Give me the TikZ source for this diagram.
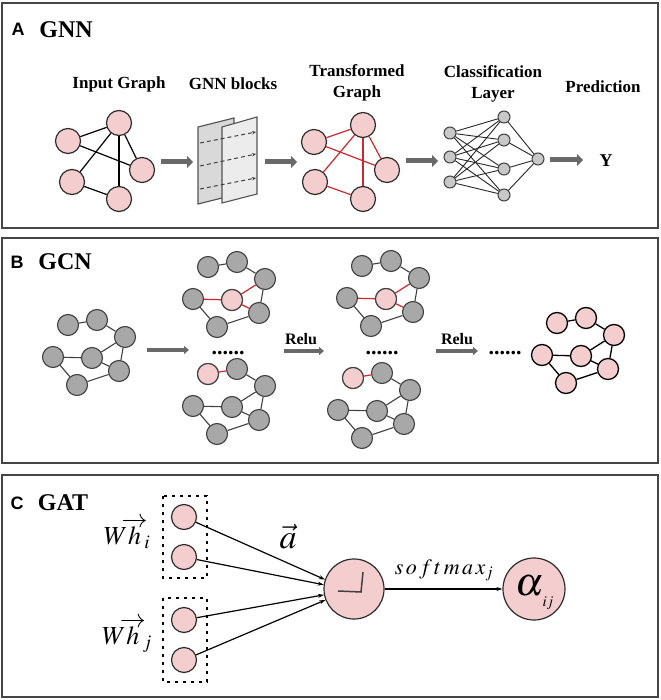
\documentclass[tikz,border=0pt]{standalone}
\usepackage{mathptmx}
\usepackage[no-math]{fontspec}
\setmainfont{Liberation Serif}
\newfontfamily\labfont{Liberation Sans}
\usetikzlibrary{arrows.meta}
\definecolor{pinkfill}{RGB}{244,205,206}
\definecolor{grayfill}{RGB}{168,168,168}
\definecolor{classfill}{RGB}{200,200,200}
\definecolor{grayb}{RGB}{64,64,64}
\definecolor{nodeb}{RGB}{45,45,45}
\definecolor{panelc}{RGB}{70,70,70}
\definecolor{redc}{RGB}{205,40,45}
\definecolor{arrowc}{RGB}{105,105,105}
\definecolor{sheetback}{RGB}{217,217,217}
\definecolor{sheetfront}{RGB}{236,236,236}
\newcommand{\gcngraph}[4]{%
  \foreach \k/\dx/\dy in {1/0/0,2/29/-5,3/57/12,4/-15/32,5/24/33,6/51/46,7/9/60}
    \node[#4] (#1\k) at ({#2+\dx},{#3+\dy}) {};}
\newcommand{\gcnedges}[3]{%
  \foreach \a/\b in {#3} \draw[#2] (#1\a) -- (#1\b);}
\begin{document}
\begin{tikzpicture}[x=1pt,y=-1pt,
  panel/.style={draw=panelc, line width=1.6pt},
  pn/.style={circle, draw=nodeb, fill=pinkfill, line width=1.2pt, minimum size=25pt, inner sep=0pt},
  gn/.style={circle, draw=grayb, fill=grayfill, line width=1.1pt, minimum size=21pt, inner sep=0pt},
  gpn/.style={gn, fill=pinkfill},
  fpn/.style={circle, draw=black, fill=pinkfill, line width=1.3pt, minimum size=21pt, inner sep=0pt},
  cn/.style={circle, draw=grayb, fill=classfill, line width=1pt, minimum size=12pt, inner sep=0pt},
  bedge/.style={draw=black, line width=1.2pt},
  redge/.style={draw=redc, line width=1.2pt},
  gedge/.style={draw=grayb, line width=1.1pt},
  fedge/.style={draw=black, line width=1.3pt},
  nnedge/.style={draw=black!85, line width=0.9pt},
  fatarrow/.style={draw=arrowc, line width=5pt, -{Triangle[width=12pt,length=6pt]}},
  midarrow/.style={draw=arrowc, line width=3.2pt, -{Triangle[width=8pt,length=5pt]}},
  carrow/.style={draw=black, line width=1.2pt, -{Stealth[length=6pt,width=4pt]}},
  sheet/.style={draw=grayb!90, line width=1.1pt},
  darr/.style={draw=grayb, line width=1pt, dash pattern=on 4pt off 3pt, -{Stealth[length=4pt,width=3.5pt]}},
  dbox/.style={draw=black, line width=1.3pt, dash pattern=on 3pt off 5pt},
  lbl/.style={font=\fontsize{17}{21}\selectfont\bfseries, align=center, inner sep=0pt},
  title/.style={font=\fontsize{24}{28}\selectfont\bfseries, inner sep=0pt},
  letter/.style={font=\labfont\bfseries\fontsize{18}{20}\selectfont, inner sep=0pt},
  dots/.style={font=\fontsize{22}{24}\selectfont\bfseries, inner sep=0pt, anchor=base},
  relu/.style={font=\fontsize{16}{18}\selectfont\bfseries, inner sep=0pt, anchor=base},
  mth/.style={inner sep=0pt}
]
\useasboundingbox (0,0) rectangle (660,700);
% panels
\draw[panel] (2,3) rectangle (658,228);
\draw[panel] (2,238) rectangle (658,463);
\draw[panel] (2,475) rectangle (658,697);

% ===== Panel A =====
\node[letter] (la) at (18,29) {A};
\node[title] (ta) at (66,30) {GNN};
\node[lbl] (l1) at (119,84) {Input Graph};
\node[lbl] (l2) at (233,84) {GNN blocks};
\node[lbl] (l3) at (357,83) {Transformed\\Graph};
\node[lbl] (l4) at (493,84) {Classification\\Layer};
\node[lbl] (l5) at (603,87) {Prediction};

% input graph
\node[pn] (in1) at (68,141) {};
\node[pn] (in2) at (119,123) {};
\node[pn] (in3) at (142,170) {};
\node[pn] (in4) at (72,182) {};
\node[pn] (in5) at (119,199) {};
\foreach \a/\b in {1/2,1/3,2/3,2/5,2/4,4/5} \draw[bedge] (in\a) -- (in\b);

% GNN blocks
\draw[sheet, fill=sheetback] (198,127) -- (234,118) -- (234,195) -- (198,204) -- cycle;
\draw[sheet, fill=sheetfront] (222,127) -- (257,117) -- (257,194) -- (222,203) -- cycle;
\draw[darr] (200,143) -- (256,132);
\draw[darr] (200,166) -- (256,154);
\draw[darr] (200,189) -- (256,178);

% transformed graph
\node[pn] (tr1) at (314,142) {};
\node[pn] (tr2) at (363,125) {};
\node[pn] (tr3) at (387,170) {};
\node[pn] (tr4) at (315,182) {};
\node[pn] (tr5) at (363,199) {};
\foreach \a/\b in {1/2,1/3,2/3,2/5,2/4,4/5} \draw[redge] (tr\a) -- (tr\b);

% classification layer
\node[cn] (ci1) at (450,133) {};
\node[cn] (ci2) at (450,157) {};
\node[cn] (ci3) at (450,182) {};
\node[cn] (ch1) at (504,117) {};
\node[cn] (ch2) at (504,140) {};
\node[cn] (ch3) at (504,169) {};
\node[cn] (ch4) at (504,195) {};
\node[cn] (co) at (538,159) {};
\foreach \i in {1,2,3} \foreach \j in {1,2,3,4} \draw[nnedge] (ci\i) -- (ch\j);
\foreach \j in {1,2,3,4} \draw[nnedge] (ch\j) -- (co);

\node[font=\fontsize{18}{20}\selectfont\bfseries, inner sep=0pt] (yy) at (606,161) {Y};

% fat arrows
\coordinate (a1s) at (161,162); \coordinate (a1e) at (193,162);
\coordinate (a2s) at (265,162); \coordinate (a2e) at (297,162);
\coordinate (a3s) at (406,161); \coordinate (a3e) at (438,161);
\coordinate (a4s) at (550,160); \coordinate (a4e) at (583,160);
\draw[fatarrow] (a1s) -- (a1e);
\draw[fatarrow] (a2s) -- (a2e);
\draw[fatarrow] (a3s) -- (a3e);
\draw[fatarrow] (a4s) -- (a4e);

% ===== Panel B =====
\node[letter] (lb) at (17,262) {B};
\node[title] (tb) at (65,262) {GCN};

\gcngraph{ga}{68}{325}{gn}
\gcnedges{ga}{gedge}{1/2,2/3,3/5,3/6,4/5,4/7,5/6,7/6}

\gcngraph{gb}{208}{267}{gn}
\node[gpn] (gb5) at (gb5) {};
\gcnedges{gb}{gedge}{1/2,2/3,3/6,4/7,7/6}
\gcnedges{gb}{redge}{3/5,4/5,5/6}

\gcngraph{gc}{208}{374}{gn}
\node[gpn] (gc1) at (gc1) {};
\gcnedges{gc}{gedge}{2/3,3/5,3/6,4/5,4/7,5/6,7/6}
\gcnedges{gc}{redge}{1/2}

\gcngraph{gd}{362}{266}{gn}
\node[gpn] (gd5) at (gd5) {};
\gcnedges{gd}{gedge}{1/2,2/3,3/6,4/7,7/6}
\gcnedges{gd}{redge}{3/5,4/5,5/6}

\gcngraph{ge}{353}{378}{gn}
\node[gpn] (ge1) at (ge1) {};
\gcnedges{ge}{gedge}{2/3,3/5,3/6,4/5,4/7,5/6,7/6}
\gcnedges{ge}{redge}{1/2}

\gcngraph{gf}{557}{323}{fpn}
\gcnedges{gf}{fedge}{1/2,2/3,3/5,3/6,4/5,4/7,5/6,7/6}

\node[dots] (d1) at (228,354) {......};
\node[dots] (d2) at (382,354) {......};
\node[dots] (d3) at (505,354) {......};
\node[relu] (r1) at (301,344) {Relu};
\node[relu] (r2) at (457,344) {Relu};

\coordinate (b1s) at (147,350); \coordinate (b1e) at (189,350);
\coordinate (b2s) at (284,351); \coordinate (b2e) at (324,351);
\coordinate (b3s) at (436,351); \coordinate (b3e) at (478,351);
\draw[midarrow] (b1s) -- (b1e);
\draw[midarrow] (b2s) -- (b2e);
\draw[midarrow] (b3s) -- (b3e);

% ===== Panel C =====
\node[letter] (lc) at (17,503) {C};
\node[title] (tc) at (63,503) {GAT};

\draw[dbox] (163,496) rectangle (207,578);
\draw[dbox] (163,598) rectangle (207,682);

\node[pn] (c1) at (184,517) {};
\node[pn] (c2) at (184,557) {};
\node[pn] (c3) at (184,620) {};
\node[pn] (c4) at (184,660) {};

\node[pn, minimum size=60pt] (big) at (354,589) {};
\draw[draw=grayb, line width=1.5pt] (338,591) -- (361,592) -- (363,572);
\node[pn, minimum size=62pt] (alpha) at (534,589) {};
\node[mth, font=\fontsize{40}{44}\selectfont] (al) at (530,586) {$\alpha$};
\node[mth, font=\fontsize{15}{17}\selectfont] (alij) at (548,603) {$ij$};

\draw[carrow] (c1) -- (big.162);
\draw[carrow] (c2) -- (big.172);
\draw[carrow] (c3) -- (big.191);
\draw[carrow] (c4) -- (big.201);
\draw[carrow] (big) -- (alpha);

\node[mth, font=\fontsize{26}{30}\selectfont] (whi) at (127,533) {$W\mkern-4mu\overrightarrow{h}_{\mkern-3mu i}$};
\node[mth, font=\fontsize{26}{30}\selectfont] (whj) at (127,635) {$W\mkern-4mu\overrightarrow{h}_{\mkern-3mu j}$};
\node[mth, font=\fontsize{34}{38}\selectfont] (va) at (288,537) {$\vec{a}$};
\node[mth, font=\fontsize{22}{26}\selectfont] (sm) at (444,570) {$s\mkern2mu o\mkern2mu f\mkern2mu t\mkern2mu m\mkern2mu a\mkern2mu x_{j}$};
\end{tikzpicture}
\end{document}
